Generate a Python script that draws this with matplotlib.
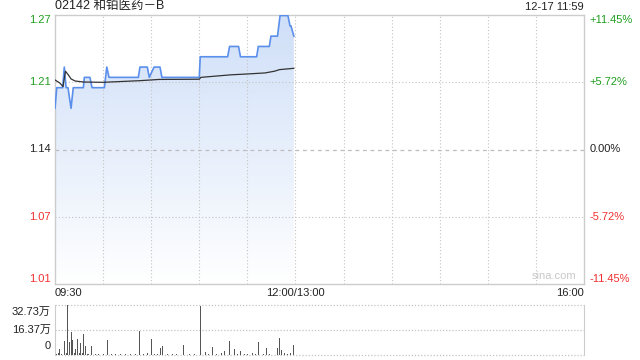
import numpy as np
import matplotlib as mpl
import matplotlib.pyplot as plt
from matplotlib.colors import LinearSegmentedColormap
from matplotlib.transforms import blended_transform_factory

plt.rcParams["font.family"] = ["Liberation Sans", "Noto Sans CJK SC", "DejaVu Sans"]

title = "02142 和铂医药－B"
stamp = "12-17 11:59"
prev_close = 1.14
pct_ticks = [11.45, 5.72, 0.0, -5.72, -11.45]
price_labels = ["1.27", "1.21", "1.14", "1.07", "1.01"]
pct_labels = ["+11.45%", "+5.72%", "0.00%", "-5.72%", "-11.45%"]
time_labels = ["09:30", "12:00/13:00", "16:00"]
vol_labels = ["32.73万", "16.37万", "0"]
vol_max = 32.73

# minutes since 09:30 (lunch break removed), price in HKD
price_t = [0, 1.1, 4.8, 5.8, 6.9, 8.1, 10, 11.4, 17.7, 18.3, 21.8, 23.1, 30.8, 32.3,
           33.7, 52, 53, 57.6, 58.8, 61.8, 65.5, 66.7, 90, 90.6, 107.7, 108.9,
           114.5, 115.7, 125.8, 126.8, 133.7, 134.7, 138.8, 140.4, 145.3, 146.6,
           147.2, 149]
price = [1.18, 1.20, 1.20, 1.22, 1.20, 1.20, 1.18, 1.20, 1.20, 1.21, 1.21, 1.20,
         1.20, 1.22, 1.21, 1.21, 1.22, 1.22, 1.21, 1.22, 1.22, 1.21, 1.21, 1.23,
         1.23, 1.24, 1.24, 1.23, 1.23, 1.24, 1.24, 1.25, 1.25, 1.27, 1.27, 1.26,
         1.26, 1.25]

avg_t = [0, 3, 5, 6.5, 8.5, 10, 12.5, 17.7, 30, 53, 65, 90, 91, 100, 110, 120,
         131, 137, 140, 149]
avg_price = [1.2075, 1.2045, 1.2010, 1.2160, 1.2120, 1.2085, 1.2065, 1.2055,
             1.2052, 1.2068, 1.2080, 1.2082, 1.2100, 1.2112, 1.2125, 1.2133,
             1.2143, 1.2160, 1.2175, 1.2188]

# volume in 万 shares
vol_t = [0, 1, 2, 3, 4, 5, 6, 7, 8, 9, 10, 11, 12, 13, 14, 15, 16, 17, 18, 19,
         20, 21, 23, 25, 27, 30, 33, 35, 38, 41, 44, 47, 50, 53, 55, 58, 60, 62,
         64, 66, 67, 70, 73, 76, 80, 84, 87, 91, 94, 96, 98, 101, 104, 106, 109,
         112, 114, 116, 118, 120, 123, 125, 127, 130, 132, 134, 136, 139, 140,
         141, 143, 145, 147, 149]
vol = [9.4, 0.5, 0.8, 3.4, 0.6, 20.0, 8.7, 1.0, 32.73, 8.5, 14.7, 9.8, 1.0, 3.4,
       10.0, 0.8, 7.5, 1.0, 13.4, 5.5, 0.6, 0.5, 5.5, 0.5, 0.4, 0.6, 9.4, 0.5,
       0.4, 0.5, 0.4, 0.6, 0.5, 15.4, 0.6, 0.8, 10.0, 0.5, 0.6, 4.0, 5.3, 0.5,
       0.4, 0.6, 6.0, 0.5, 0.6, 32.1, 1.5, 0.6, 4.7, 0.5, 0.8, 2.0, 8.7, 3.4,
       0.6, 2.0, 0.5, 0.6, 0.9, 0.5, 8.0, 0.6, 4.0, 0.6, 11.4, 4.0, 10.7, 3.1,
       0.8, 0.6, 0.8, 6.0]

green = "#1f9e1f"
red = "#f03030"
pct_colors = [green, green, "#222222", red, red]
grid_c = "#c4c4c4"
frame_c = "#cccccc"

ymax = prev_close * (1 + pct_ticks[0] / 100)
ymin = prev_close * (1 + pct_ticks[-1] / 100)
yticks = [prev_close * (1 + p / 100) for p in pct_ticks]

fig = plt.figure(figsize=(6.4, 3.6), dpi=100)
ax = fig.add_axes([55 / 640, 1 - 284 / 360, 529 / 640, 269 / 360])
axv = fig.add_axes([55 / 640, 1 - 354.5 / 360, 529 / 640, 49.5 / 360])

# --- price panel
ax.set_xlim(0, 330)
ax.set_ylim(ymin, ymax)
for s in ax.spines.values():
    s.set_color(frame_c)
    s.set_linewidth(1)
ax.set_xticks([])
ax.set_yticks([])

for x in range(30, 330, 30):
    ax.axvline(x, color=grid_c, lw=0.8, ls=(0, (1, 2)), zorder=2)
for y in yticks[1:-1]:
    if y == prev_close:
        ax.axhline(y, color="#bdbdbd", lw=0.9, ls=(0, (3, 3)), zorder=2)
    else:
        ax.axhline(y, color=grid_c, lw=0.8, ls=(0, (1, 2)), zorder=2)

fill = ax.fill_between(price_t, price, ymin, facecolor="none", edgecolor="none")
cmap = LinearSegmentedColormap.from_list("fade", ["#ffffff", "#cfdff8"])
grad = np.linspace(0, 1, 256).reshape(-1, 1)
im = ax.imshow(grad, extent=[0, 330, ymin, ymax], origin="lower", aspect="auto",
               cmap=cmap, zorder=1)
im.set_clip_path(fill.get_paths()[0], transform=ax.transData)

ax.plot(price_t, price, color="#5b8fec", lw=1.2, zorder=4)
ax.plot(avg_t, avg_price, color="#333333", lw=0.9, zorder=4)

tr_l = blended_transform_factory(ax.transAxes, ax.transData)
for i, (y, lab) in enumerate(zip(yticks, price_labels)):
    va = "top" if i == 0 else ("bottom" if i == len(yticks) - 1 else "center")
    ax.text(-0.008, y, lab, transform=tr_l, ha="right", va=va, fontsize=8,
            color=pct_colors[i])
    ax.text(1.011, y, pct_labels[i], transform=tr_l, ha="left", va=va,
            fontsize=8, color=pct_colors[i])

ax.text(0, 1.012, title, transform=ax.transAxes, ha="left", va="bottom",
        fontsize=9, color="#222222")
ax.text(1, 1.012, stamp, transform=ax.transAxes, ha="right", va="bottom",
        fontsize=8, color="#222222")
ax.text(0.985, 0.012, "sina.com", transform=ax.transAxes, ha="right",
        va="bottom", fontsize=8, color="#c8c8c8")

tr_b = blended_transform_factory(ax.transData, ax.transAxes)
ax.text(0, -0.035, time_labels[0], transform=tr_b, ha="left", va="center",
        fontsize=8, color="#222222")
ax.text(150, -0.035, time_labels[1], transform=tr_b, ha="center", va="center",
        fontsize=8, color="#222222")
ax.text(330, -0.035, time_labels[2], transform=tr_b, ha="right", va="center",
        fontsize=8, color="#222222")

# --- volume panel
axv.set_xlim(0, 330)
axv.set_ylim(0, vol_max)
axv.set_xticks([])
axv.set_yticks([])
for k in ["top", "bottom"]:
    axv.spines[k].set_visible(False)
for k in ["left", "right"]:
    axv.spines[k].set_color(frame_c)
for y in [0, vol_max / 2, vol_max]:
    axv.axhline(y, color=grid_c, lw=0.9, ls=(0, (1, 1.5)), zorder=1,
                clip_on=False)
axv.bar(vol_t, vol, width=0.6, color="#555555", zorder=3)

vol_pos = [vol_max, vol_max / 2, 0]
for i, (y, lab) in enumerate(zip(vol_pos, vol_labels)):
    va = "top" if i == 0 else ("bottom" if i == 2 else "center")
    off = -1.5 if i == 0 else (2.5 if i == 2 else 0)
    axv.text(-0.008, y + off, lab, transform=blended_transform_factory(
        axv.transAxes, axv.transData), ha="right", va=va, fontsize=8,
        color="#222222")

fig.savefig("out.png", dpi=100)
